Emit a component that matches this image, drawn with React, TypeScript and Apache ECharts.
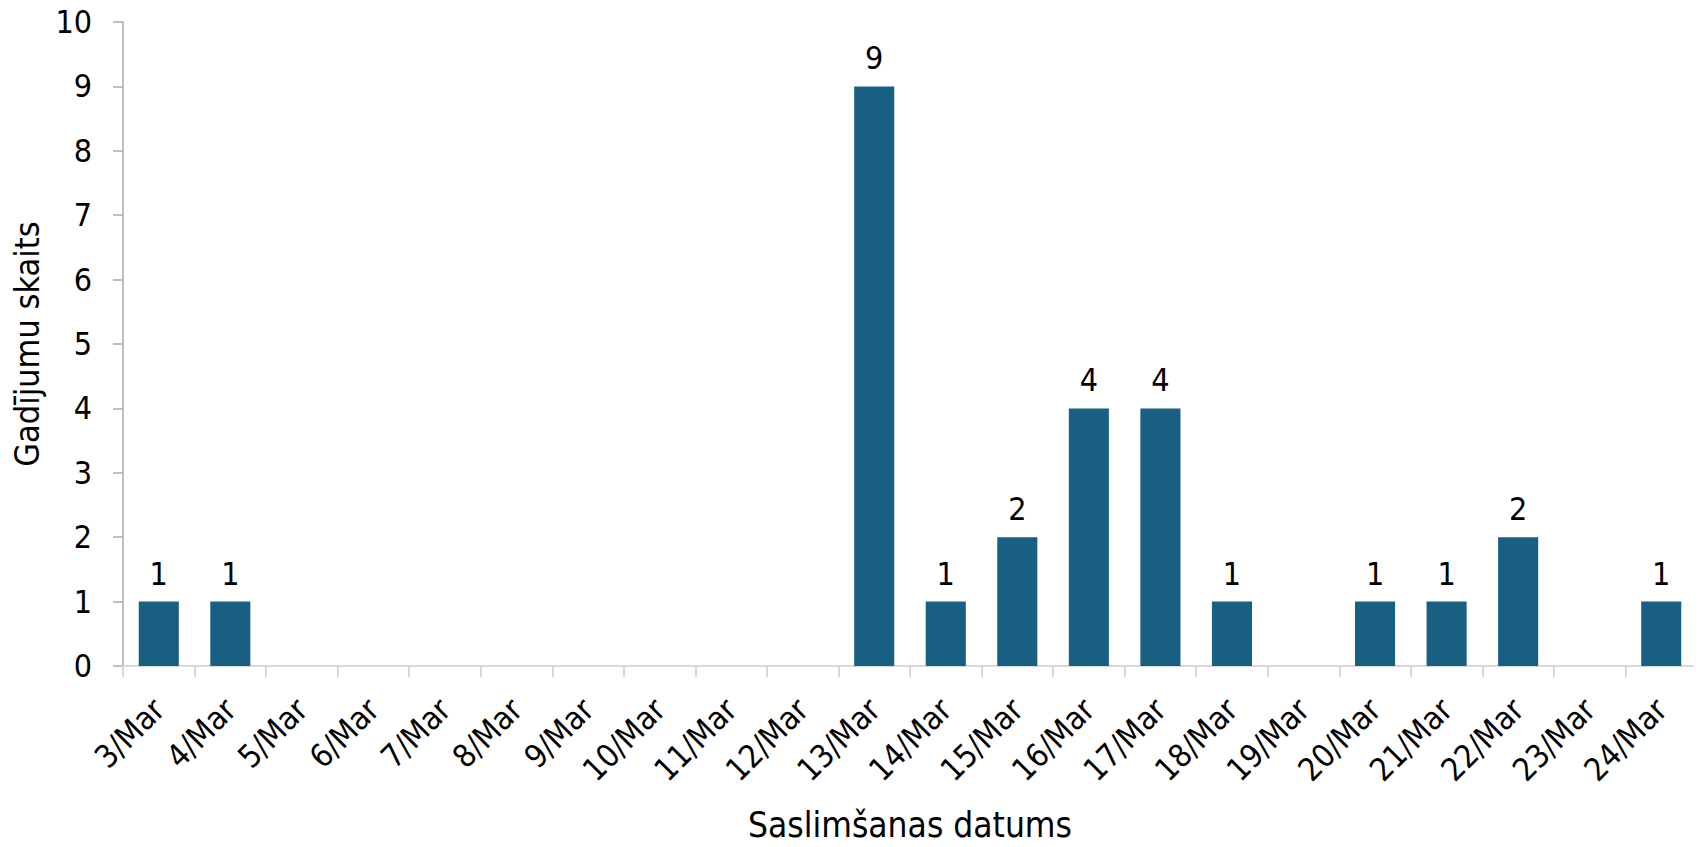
import React, { useEffect, useRef } from "react";
import * as echarts from "echarts";

const categories = [
  "3/Mar", "4/Mar", "5/Mar", "6/Mar", "7/Mar", "8/Mar", "9/Mar", "10/Mar",
  "11/Mar", "12/Mar", "13/Mar", "14/Mar", "15/Mar", "16/Mar", "17/Mar",
  "18/Mar", "19/Mar", "20/Mar", "21/Mar", "22/Mar", "23/Mar", "24/Mar",
];
const cases = [1, 1, 0, 0, 0, 0, 0, 0, 0, 0, 9, 1, 2, 4, 4, 1, 0, 1, 1, 2, 0, 1];
const yTicks = { min: 0, max: 10, interval: 1 };

const FONT = "DejaVu Sans Condensed";

export default function App() {
  const ref = useRef<HTMLDivElement>(null);
  useEffect(() => {
    if (!ref.current) return;
    const chart = echarts.init(ref.current, null, { renderer: "svg" });
    chart.setOption({
      animation: false,
      grid: { left: 123, right: 5, top: 22, bottom: 174, containLabel: false },
      xAxis: {
        type: "category",
        data: categories,
        name: "Saslimšanas datums",
        nameLocation: "middle",
        nameGap: 141,
        nameTextStyle: { fontFamily: FONT, fontSize: 35, color: "#000" },
        axisLine: { lineStyle: { color: "#d9d9d9", width: 2 } },
        axisTick: { show: true, length: 11, lineStyle: { color: "#d9d9d9", width: 2 } },
        axisLabel: {
          rotate: 45,
          fontFamily: FONT,
          fontSize: 32,
          color: "#000",
          margin: 38,
          interval: 0,
          verticalAlign: "middle",
        },
      },
      yAxis: {
        type: "value",
        min: yTicks.min,
        max: yTicks.max,
        interval: yTicks.interval,
        name: "Gadījumu skaits",
        nameLocation: "middle",
        nameGap: 75,
        nameTextStyle: { fontFamily: FONT, fontSize: 34, color: "#000" },
        axisLine: { show: true, lineStyle: { color: "#bfbfbf", width: 2 } },
        axisTick: { show: true, length: 10, lineStyle: { color: "#bfbfbf", width: 2 } },
        splitLine: { show: false },
        axisLabel: { fontFamily: FONT, fontSize: 32, color: "#000", margin: 31 },
      },
      series: [
        {
          type: "bar",
          data: cases,
          barWidth: "56%",
          itemStyle: { color: "#185f82" },
          label: {
            show: true,
            position: "top",
            distance: 12,
            fontFamily: FONT,
            fontSize: 32,
            color: "#000",
            formatter: (p: any) => (p.value ? String(p.value) : ""),
          },
        },
      ],
    });
    return () => chart.dispose();
  }, []);
  return <div ref={ref} style={{ width: 1702, height: 847, margin: -8 }} />;
}
